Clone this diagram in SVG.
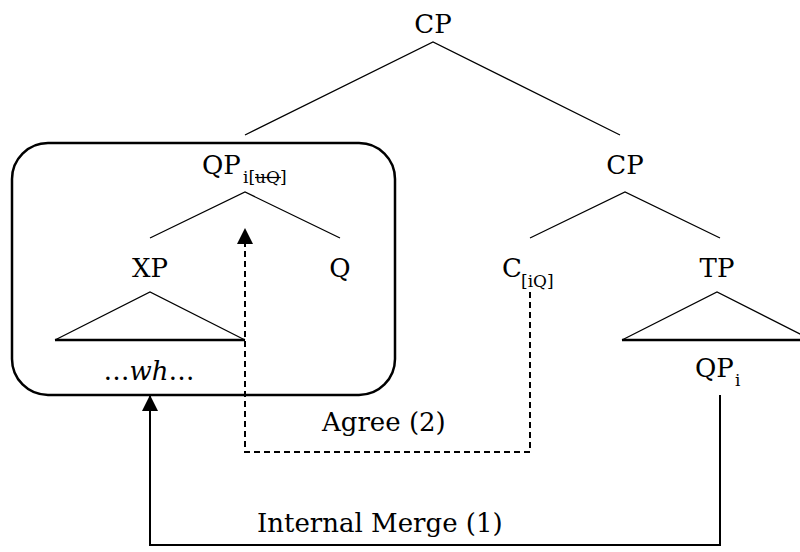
<svg xmlns="http://www.w3.org/2000/svg" width="800" height="552" viewBox="0 0 800 552">
<defs>
<style>
text{font-family:"DejaVu Serif","Liberation Serif",serif;font-size:26px;fill:#000;text-anchor:middle}
text.l{text-anchor:start}
.sub{font-size:17px}
.edge{stroke:#000;stroke-width:1.3;fill:none}
.base{stroke:#000;stroke-width:2.4;fill:none}
.dash{stroke:#000;stroke-width:2;fill:none;stroke-dasharray:6,4}
.solid{stroke:#000;stroke-width:2;fill:none}
</style>
<marker id="ah" viewBox="0 0 16 16" refX="16" refY="8" markerWidth="16" markerHeight="16" markerUnits="userSpaceOnUse" orient="auto">
<path d="M0,0 L16,8 L0,16 z" fill="#000"/>
</marker>
</defs>
<rect x="12" y="143" width="383" height="252" rx="36" ry="36" fill="none" stroke="#000" stroke-width="2.5"/>
<g id="edges">
<path class="edge" d="M245,135 L433,42 L620,135"/>
<path class="edge" d="M150,238 L245,192 L340,238"/>
<path class="edge" d="M530,238 L625,192 L720,238"/>
<path class="edge" d="M55,340 L150,292 L245,340"/>
<path class="base" d="M55,340 L245,340"/>
<path class="edge" d="M622,340 L717,292 L812,340"/>
<path class="base" d="M622,340 L812,340"/>
</g>
<g id="n-cp-top"><text x="433" y="33">CP</text></g>
<g id="n-qp"><text class="l" x="202" y="174">QP</text><text class="sub l" x="243" y="183">i[uQ]</text><line x1="255" y1="177.5" x2="281" y2="177.5" stroke="#000" stroke-width="1.2"/></g>
<g id="n-cp"><text x="625" y="174">CP</text></g>
<g id="n-xp"><text x="150" y="277">XP</text></g>
<g id="n-q"><text x="340" y="277">Q</text></g>
<g id="n-c"><text class="l" x="502" y="277">C</text><text class="sub l" x="521" y="287">[iQ]</text></g>
<g id="n-tp"><text x="717" y="277">TP</text></g>
<g id="n-wh"><text x="149" y="380">…<tspan font-style="italic">wh</tspan>…</text></g>
<g id="n-qpi"><text class="l" x="695" y="377">QP</text><text class="sub l" x="735" y="386">i</text></g>
<g id="connectors">
<path class="dash" d="M530,292 L530,452 L245,452 L245,228" marker-end="url(#ah)"/>
<path class="solid" d="M720,395 L720,545 L150,545 L150,395" marker-end="url(#ah)"/>
<text class="l" x="322" y="431">Agree (2)</text>
<text class="l" x="257" y="532">Internal Merge (1)</text>
</g>
</svg>
